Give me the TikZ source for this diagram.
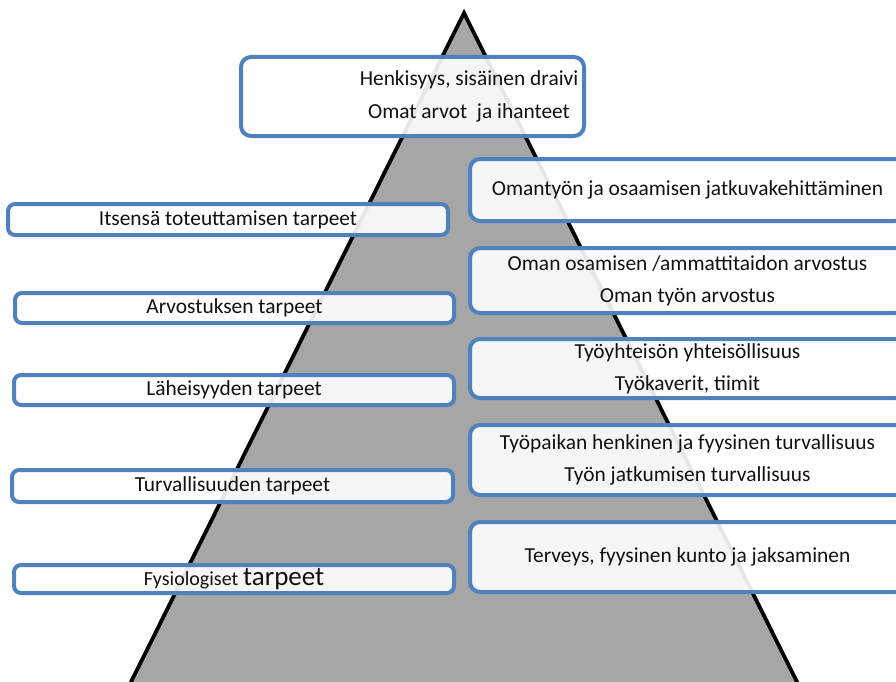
\documentclass[tikz,border=0pt]{standalone}
\usepackage{fontspec}
\setmainfont{Carlito}
\definecolor{boxblue}{HTML}{4F81BD}
\definecolor{pyrgray}{HTML}{A6A6A6}
\definecolor{txt}{HTML}{111111}
\begin{document}
\begin{tikzpicture}[x=1pt,y=-1pt,
  lbox/.style={draw=boxblue, line width=4pt, fill=white, fill opacity=0.9, text opacity=1, text=txt,
    rounded corners=7pt, inner sep=0pt, font=\fontsize{21.4}{32}\selectfont, align=center},
  rbox/.style={lbox, rounded corners=10pt},
  ttext/.style={inner sep=0pt, text=txt, font=\fontsize{21.4}{33}\selectfont, align=center}]
\useasboundingbox (0,0) rectangle (896,682);
% pyramid
\coordinate (apex) at (464,13);
\coordinate (bl) at (130,684);
\coordinate (br) at (798,684);
\draw[fill=pyrgray, line width=3.8pt, line join=miter] (bl) -- (apex) -- (br) -- cycle;
% top box
\node[rbox, minimum width=343pt, minimum height=79pt] (top) at (412.5,96.5) {};
\node[ttext] (toptext) at (469,96.5) {Henkisyys, sisäinen draivi\\Omat arvot\ \ ja ihanteet};
% left boxes
\node[lbox, minimum width=440pt, minimum height=31pt] (l1) at (228,219.5) {Itsensä toteuttamisen tarpeet};
\node[lbox, minimum width=439pt, minimum height=30pt] (l2) at (234.5,308) {Arvostuksen tarpeet};
\node[lbox, minimum width=440pt, minimum height=30pt] (l3) at (234,390) {Läheisyyden tarpeet};
\node[lbox, minimum width=441pt, minimum height=32pt] (l4) at (232.5,486) {Turvallisuuden tarpeet};
\node[lbox, minimum width=440pt, minimum height=28pt] (l5) at (234,579) {{\fontsize{20}{30}\selectfont Fysiologiset} {\fontsize{27}{30}\selectfont tarpeet}};
% right boxes
\node[rbox, minimum width=435pt, minimum height=62pt] (r1) at (687.5,190) {Omantyön ja osaamisen jatkuvakehittäminen};
\node[rbox, minimum width=435pt, minimum height=65pt] (r2) at (687.5,280.5) {Oman osamisen /ammattitaidon arvostus\\Oman työn arvostus};
\node[rbox, minimum width=435pt, minimum height=59pt] (r3) at (687.5,368.5) {Työyhteisön yhteisöllisuus\\Työkaverit, tiimit};
\node[rbox, minimum width=435pt, minimum height=70pt] (r4) at (687.5,460) {Työpaikan henkinen ja fyysinen turvallisuus\\Työn jatkumisen turvallisuus};
\node[rbox, minimum width=435pt, minimum height=70pt] (r5) at (687.5,557) {Terveys, fyysinen kunto ja jaksaminen};
\end{tikzpicture}
\end{document}
